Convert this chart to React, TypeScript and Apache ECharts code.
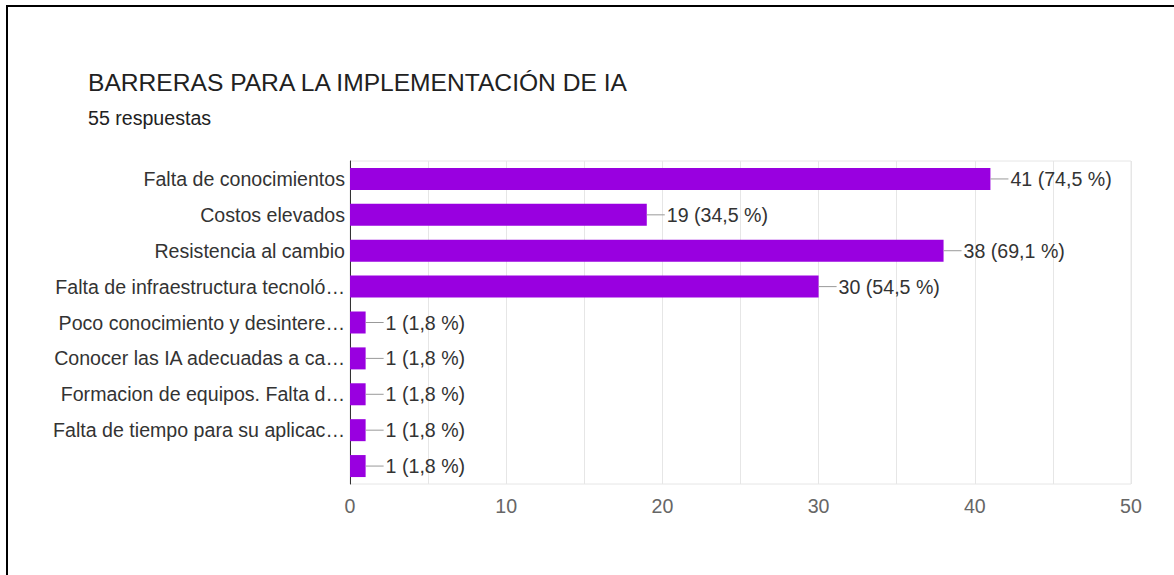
import React, { useEffect, useRef } from "react";
import * as echarts from "echarts";

const titleText = "BARRERAS PARA LA IMPLEMENTACIÓN DE IA";
const subtitleText = "55 respuestas";
const categories = [
  "Falta de conocimientos",
  "Costos elevados",
  "Resistencia al cambio",
  "Falta de infraestructura tecnoló…",
  "Poco conocimiento y desintere…",
  "Conocer las IA adecuadas a ca…",
  "Formacion de equipos. Falta d…",
  "Falta de tiempo para su aplicac…",
  "",
];
const values = [41, 19, 38, 30, 1, 1, 1, 1, 1];
const percents = ["74,5", "34,5", "69,1", "54,5", "1,8", "1,8", "1,8", "1,8", "1,8"];
const xTicks = [0, 10, 20, 30, 40, 50];

const FONT = "'Liberation Sans', Arial, Helvetica, sans-serif";
const FS = 19.6;

export default function App() {
  const ref = useRef<HTMLDivElement>(null);
  useEffect(() => {
    if (!ref.current) return;
    const chart = echarts.init(ref.current, undefined, { renderer: "svg" });
    chart.setOption({
      animation: false,
      backgroundColor: "transparent",
      textStyle: { fontFamily: FONT },
      title: [
        {
          text: titleText,
          left: 88,
          top: 70,
          padding: 0,
          textStyle: { fontSize: 24.6, fontWeight: "normal", color: "#212121", fontFamily: FONT },
        },
        {
          text: subtitleText,
          left: 88,
          top: 108,
          padding: 0,
          textStyle: { fontSize: FS, fontWeight: "normal", color: "#212121", fontFamily: FONT },
        },
      ],
      grid: {
        left: 350,
        right: 43,
        top: 161,
        bottom: 91,
        show: true,
        borderColor: "#e6e6e6",
        borderWidth: 1,
        containLabel: false,
      },
      xAxis: {
        type: "value",
        min: 0,
        max: 50,
        interval: 5,
        axisLine: { show: false },
        axisTick: { show: false },
        splitLine: { show: true, lineStyle: { color: "#e6e6e6", width: 1 } },
        axisLabel: {
          margin: 12,
          fontSize: FS,
          color: "#666666",
          fontFamily: FONT,
          formatter: (v: number) => (xTicks.indexOf(v) >= 0 ? String(v) : ""),
        },
      },
      yAxis: {
        type: "category",
        data: categories,
        inverse: true,
        axisLine: { show: true, lineStyle: { color: "#333333", width: 1 } },
        axisTick: { show: false },
        splitLine: { show: false },
        axisLabel: {
          margin: 5,
          fontSize: FS,
          color: "#333333",
          fontFamily: FONT,
        },
      },
      series: [
        {
          type: "bar",
          data: values,
          barWidth: 22,
          itemStyle: { color: "#9900e0" },
          label: {
            show: true,
            position: "right",
            distance: 0,
            formatter: (p: any) => `{line|}{t|${values[p.dataIndex]} (${percents[p.dataIndex]} %)}`,
            rich: {
              line: { width: 18, height: 1, backgroundColor: "#999999" },
              t: { fontSize: FS, color: "#333333", fontFamily: FONT, padding: [0, 0, 0, 2] },
            },
          },
        },
      ],
    });
    return () => chart.dispose();
  }, []);
  return (
    <div style={{ position: "absolute", left: 0, top: 0, width: 1174, height: 575, overflow: "hidden", background: "#fff" }}>
      <div
        style={{
          position: "absolute",
          left: 6,
          top: 5,
          width: 1400,
          height: 800,
          borderTop: "2px solid #000",
          borderLeft: "2px solid #000",
        }}
      />
      <div ref={ref} style={{ position: "absolute", left: 0, top: 0, width: 1174, height: 575 }} />
    </div>
  );
}
